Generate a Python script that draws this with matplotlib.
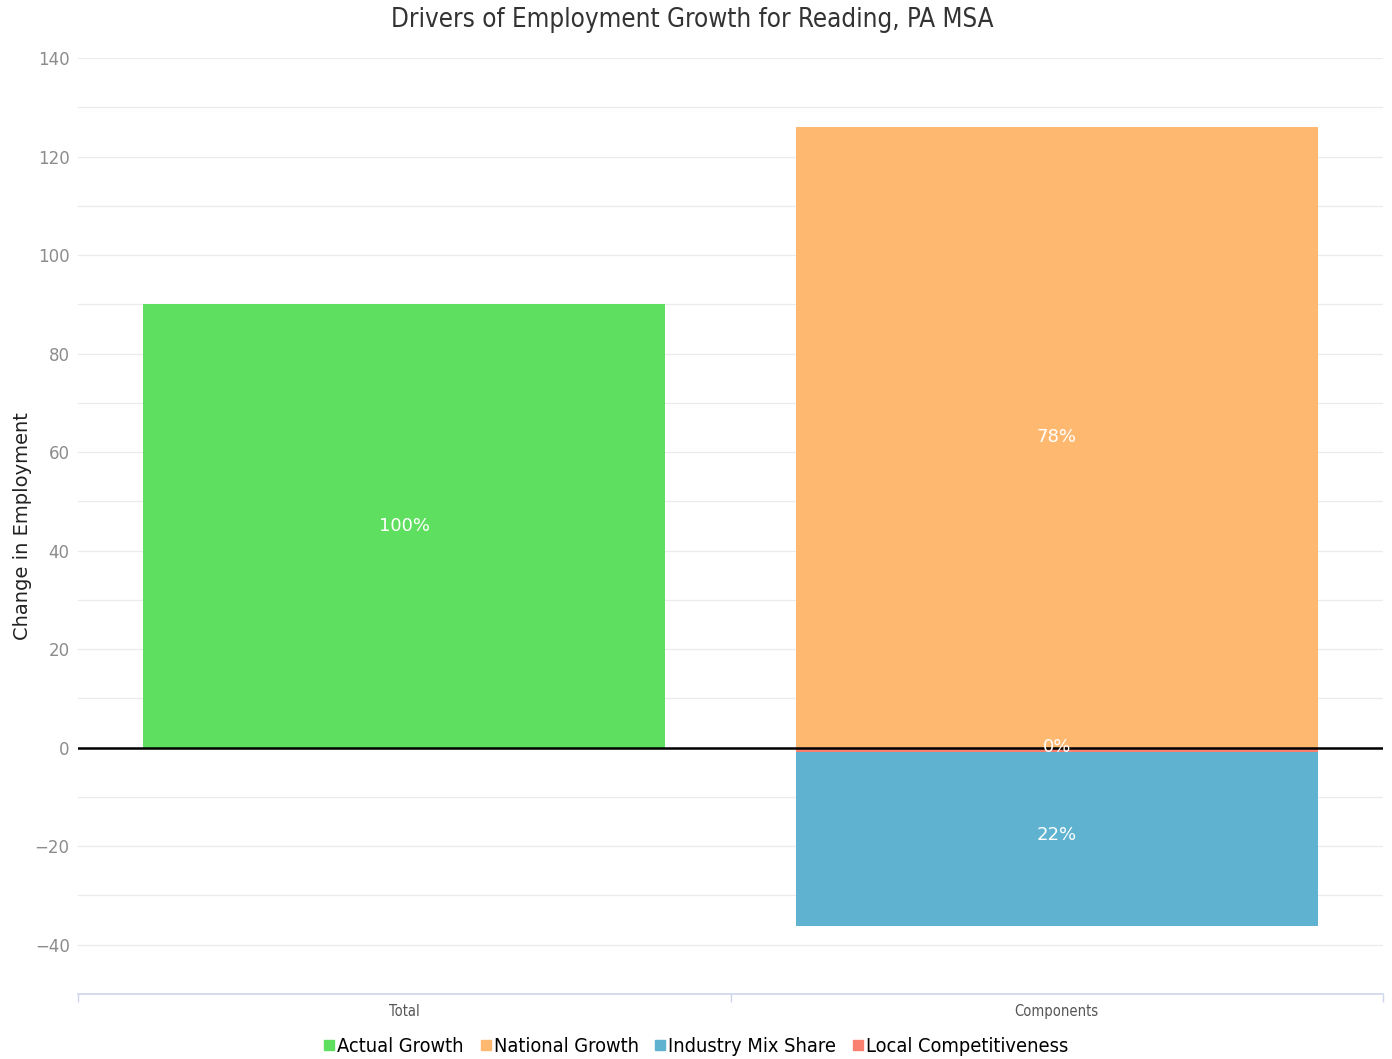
import numpy as np
import matplotlib
matplotlib.use("Agg")
import matplotlib.pyplot as plt
from matplotlib.lines import Line2D

# Data
categories = ["Total", "Components"]
actual_growth = [90.0, 0.0]
national_growth = [0.0, 126.0]
local_competitiveness = [0.0, -0.8]
industry_mix = [0.0, -35.4]
pct_labels = {"actual": "100%", "national": "78%", "local": "0%", "industry": "22%"}

series_colors = {
    "Actual Growth": "#5fdf5f",
    "National Growth": "#ffb870",
    "Industry Mix Share": "#5fb3d1",
    "Local Competitiveness": "#fa8070",
}

fig = plt.figure(figsize=(13.92, 10.59), dpi=100)
ax = fig.add_axes([78 / 1392, 1 - 994 / 1059, (1383 - 78) / 1392, (994 - 58) / 1059])

x = np.arange(len(categories))
w = 0.8

# Total bar
ax.bar(x[0], actual_growth[0], width=w, color=series_colors["Actual Growth"], zorder=2)
# Components: stack positive / negative separately
ax.bar(x[1], national_growth[1], width=w, color=series_colors["National Growth"], zorder=2)
ax.bar(x[1], local_competitiveness[1], width=w, color=series_colors["Local Competitiveness"], zorder=2)
ax.bar(x[1], industry_mix[1], width=w, bottom=local_competitiveness[1],
       color=series_colors["Industry Mix Share"], zorder=2)

lbl = dict(ha="center", va="center", color="white", fontsize=13, zorder=5)
ax.text(x[0], actual_growth[0] / 2, pct_labels["actual"], **lbl)
ax.text(x[1], national_growth[1] / 2, pct_labels["national"], **lbl)
ax.text(x[1], local_competitiveness[1] / 2 + 0.6, pct_labels["local"], **lbl)
ax.text(x[1], local_competitiveness[1] + industry_mix[1] / 2 + 0.7, pct_labels["industry"], **lbl)

ax.axhline(0, color="black", lw=1.8, zorder=3)

ax.set_xlim(-0.5, 1.5)
ax.set_ylim(-50, 140)
ax.set_yticks(np.arange(-40, 141, 20))
ax.set_yticks(np.arange(-50, 141, 10), minor=True)
ax.set_yticklabels([f"\u2212{abs(v)}" if v < 0 else str(v) for v in range(-40, 141, 20)])
ax.grid(axis="y", which="both", color="#ebebeb", lw=0.9, zorder=0)
ax.tick_params(axis="y", which="both", length=0, labelsize=12, labelcolor="#8c8c8c", pad=6)

ax.set_xticks(x)
ax.set_xticklabels(categories, fontsize=10.5, color="#555555", fontstretch="condensed")
ax.set_xticks([-0.5, 0.5, 1.5], minor=True)
ax.tick_params(axis="x", which="major", length=0, pad=7)
ax.tick_params(axis="x", which="minor", length=6, color="#ccd6eb", width=1)

for s in ["top", "right", "left"]:
    ax.spines[s].set_visible(False)
ax.spines["bottom"].set_color("#ccd6eb")
ax.spines["bottom"].set_linewidth(1.2)

ax.set_ylabel("Change in Employment", fontsize=14, color="#222222", labelpad=2)
fig.text(692 / 1392, 1 - 20 / 1059, "Drivers of Employment Growth for Reading, PA MSA",
         ha="center", va="center", fontsize=18.6, color="#333333", fontstretch="condensed",
         fontweight="light")

handles = [Line2D([], [], marker="s", ls="none", color=c, markersize=7)
           for c in series_colors.values()]
fig.legend(handles, list(series_colors.keys()), loc="center", bbox_to_anchor=(0.5, 1 - 1046 / 1059),
           ncol=4, frameon=False, handlelength=0.6, handletextpad=0.1, columnspacing=0.8,
           prop={"size": 14.3, "stretch": "condensed"})

fig.savefig("out.png", dpi=100)
